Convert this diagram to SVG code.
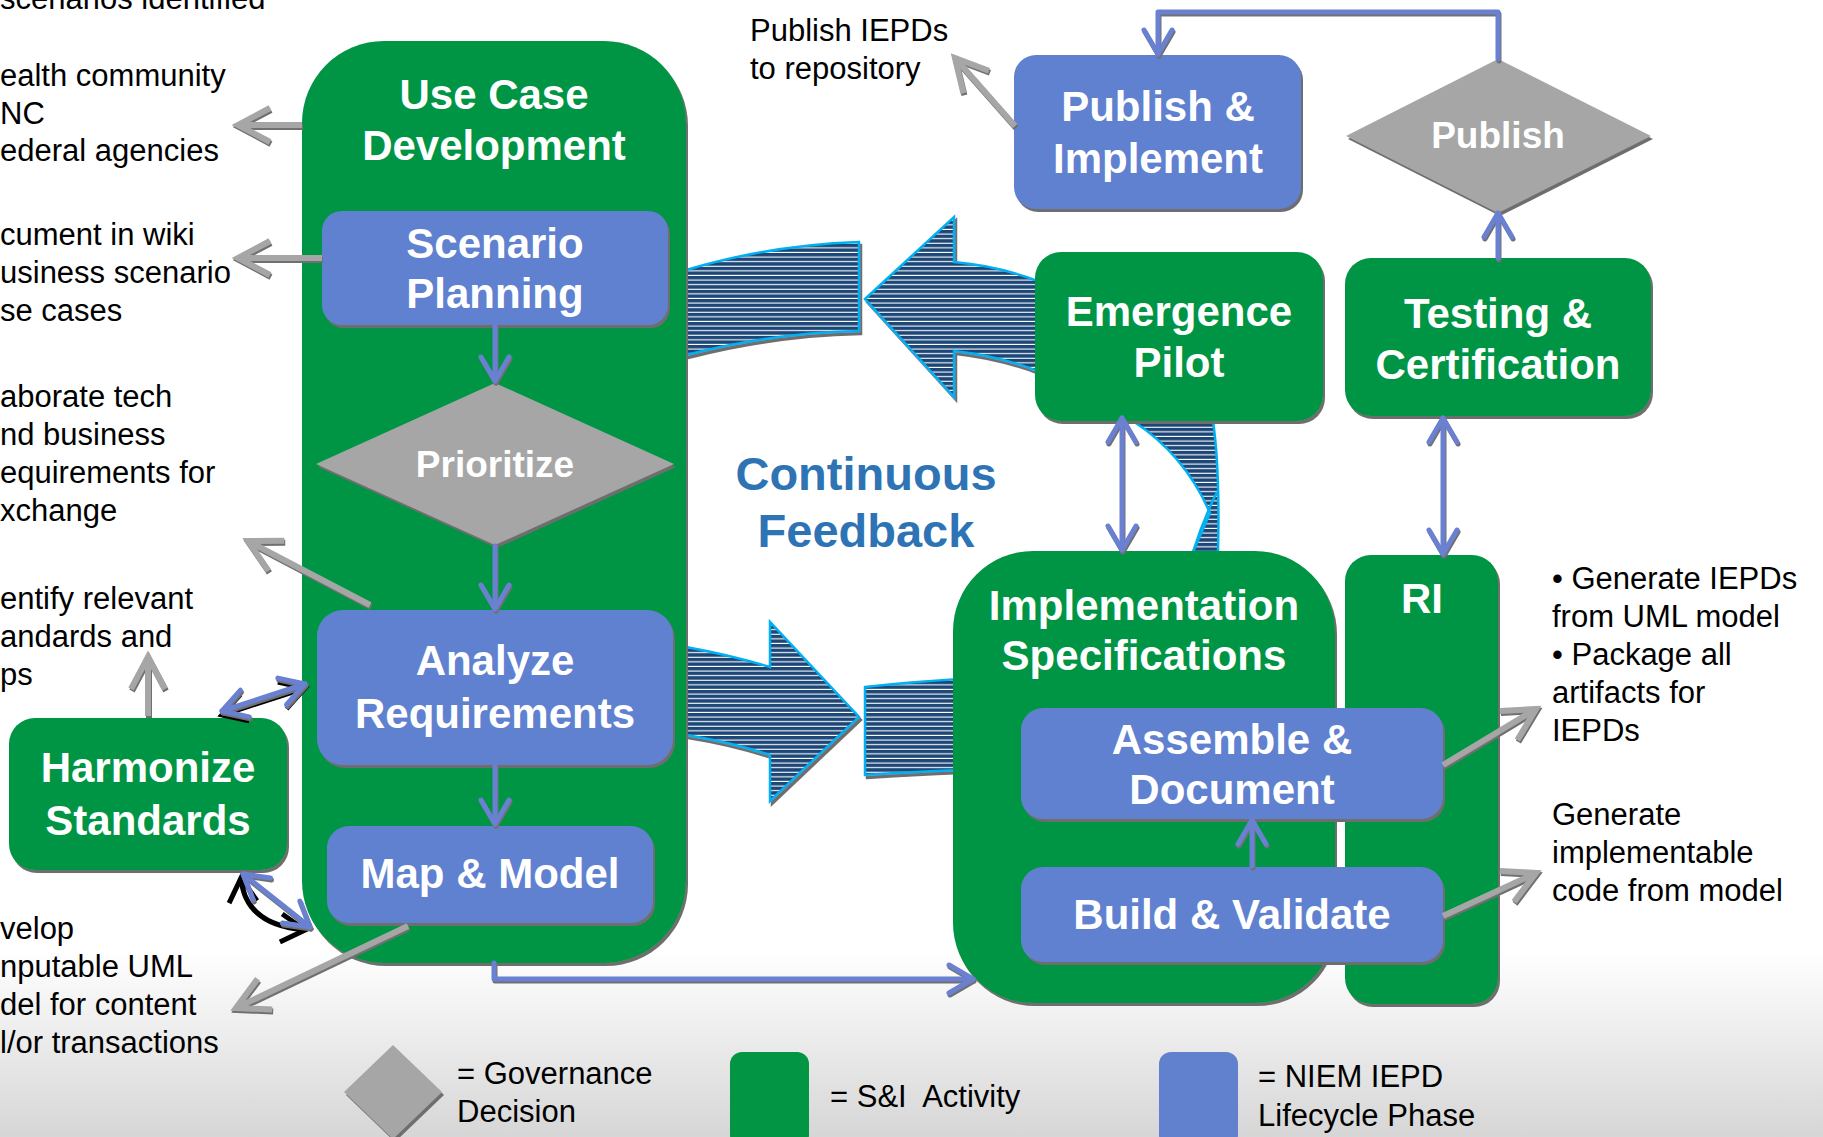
<svg xmlns="http://www.w3.org/2000/svg" width="1823" height="1137" viewBox="0 0 1823 1137">
<defs>
<style>
.nt{font-family:"Liberation Sans",Arial,sans-serif;font-weight:bold;font-size:42px;fill:#fff;text-anchor:middle}
.dt{font-family:"Liberation Sans",Arial,sans-serif;font-weight:bold;font-size:37px;fill:#fff;text-anchor:middle}
.lt{font-family:"Liberation Sans",Arial,sans-serif;font-size:31px;fill:#000;white-space:pre}
.cf{font-family:"Liberation Sans",Arial,sans-serif;font-weight:bold;font-size:47px;fill:#2E74B5;text-anchor:middle}
.green{fill:#019544}
.blue{fill:#6181CF}
.gray{fill:#A6A6A6}
.bl{fill:none;stroke:#6A80D0;stroke-width:5;stroke-linecap:round;stroke-linejoin:round}
.gr{fill:none;stroke:#A6A6A6;stroke-width:6}
.bk{fill:none;stroke:#000;stroke-width:5}
.fb{fill:url(#stripes);stroke:#00B0F0;stroke-width:2.5}
</style>
<pattern id="stripes" patternUnits="userSpaceOnUse" width="10" height="4.6">
<rect width="10" height="4.6" fill="#1B4677"/>
<rect y="3.5" width="10" height="1.1" fill="#fff"/>
</pattern>
<linearGradient id="bg" x1="0" y1="0" x2="0" y2="1">
<stop offset="0" stop-color="#fff"/>
<stop offset="1" stop-color="#D6D6D6"/>
</linearGradient>
<filter id="sh" x="-5%" y="-5%" width="115%" height="120%">
<feDropShadow dx="2" dy="3" stdDeviation="0.5" flood-color="#6E6E6E" flood-opacity="1"/>
</filter>
<filter id="sh2" x="-20%" y="-20%" width="140%" height="140%">
<feDropShadow dx="1" dy="2" stdDeviation="0.4" flood-color="#707070" flood-opacity="1"/>
</filter>
<marker id="ab" markerUnits="userSpaceOnUse" markerWidth="40" markerHeight="40" viewBox="-30 -20 40 40" refX="0" refY="0" orient="auto-start-reverse" overflow="visible">
<path d="M-24,-14 L0,0 L-24,14" fill="none" stroke="#6A80D0" stroke-width="5" stroke-linecap="round" stroke-linejoin="round"/>
</marker>
<marker id="abk" markerUnits="userSpaceOnUse" markerWidth="40" markerHeight="40" viewBox="-30 -20 40 40" refX="0" refY="0" orient="auto-start-reverse" overflow="visible">
<path d="M-24,-14 L0,0 L-24,14" fill="none" stroke="#000" stroke-width="5"/>
</marker>
<marker id="ag" markerUnits="userSpaceOnUse" markerWidth="50" markerHeight="50" viewBox="-40 -25 50 50" refX="0" refY="0" orient="auto" overflow="visible">
<path d="M-32,-17 L0,0 L-32,17" fill="none" stroke="#A6A6A6" stroke-width="6"/>
</marker>
</defs>

<rect width="1823" height="1137" fill="#fff"/>
<rect y="950" width="1823" height="187" fill="url(#bg)"/>

<g id="feedback">
<path class="fb" d="M686,270 Q770,245 859,242 L859,331 Q770,333 686,355 Z" filter="url(#sh)"/>
<path class="fb" d="M865,299 L954,217 L954,262 Q1000,266 1040,282 L1040,372 Q1000,356 954,351 L954,397 Z" filter="url(#sh)"/>
<path class="fb" d="M686,647 Q730,655 770,667 L770,622 L859,717 L770,801 L770,755 Q730,742 686,735 Z" filter="url(#sh)"/>
<path class="fb" d="M865,687 Q910,682 960,679 L960,770 Q910,772 865,775 Z" filter="url(#sh)"/>
<path class="fb" d="M1133,421 Q1185,455 1210,513 L1193,552 L1218,552 Q1220,470 1213,421 Z"/>
<path d="M1217,492 Q1203,520 1193,552" fill="none" stroke="#00B0F0" stroke-width="2.5"/>
</g>

<g id="continuous-feedback">
<text class="cf" x="866" y="490">Continuous</text>
<text class="cf" x="866" y="547">Feedback</text>
</g>

<g id="use-case-development">
<rect class="green" x="302" y="41" width="384" height="922" rx="82" ry="82" filter="url(#sh)"/>
<text class="nt" x="494" y="109">Use Case</text>
<text class="nt" x="494" y="160">Development</text>
</g>

<g id="scenario-planning">
<rect class="blue" x="322" y="211" width="346" height="114" rx="20" filter="url(#sh)"/>
<text class="nt" x="495" y="258">Scenario</text>
<text class="nt" x="495" y="308">Planning</text>
</g>

<g id="prioritize">
<polygon class="gray" points="495,383 674,464 495,545 316,464" filter="url(#sh)"/>
<text class="dt" x="495" y="477">Prioritize</text>
</g>

<g id="analyze-requirements">
<rect class="blue" x="317" y="610" width="356" height="155" rx="26" filter="url(#sh)"/>
<text class="nt" x="495" y="675">Analyze</text>
<text class="nt" x="495" y="728">Requirements</text>
</g>

<g id="map-model">
<rect class="blue" x="327" y="826" width="326" height="97" rx="22" filter="url(#sh)"/>
<text class="nt" x="490" y="888">Map &amp; Model</text>
</g>

<g id="harmonize-standards">
<rect class="green" x="9" y="718" width="278" height="152" rx="26" filter="url(#sh)"/>
<text class="nt" x="148" y="782">Harmonize</text>
<text class="nt" x="148" y="835">Standards</text>
</g>

<g id="publish-implement">
<rect class="blue" x="1014" y="55" width="287" height="154" rx="22" filter="url(#sh)"/>
<text class="nt" x="1158" y="121">Publish &amp;</text>
<text class="nt" x="1158" y="173">Implement</text>
</g>

<g id="publish">
<polygon class="gray" points="1498,59 1651,136 1498,213 1346,136" filter="url(#sh)"/>
<text class="dt" x="1498" y="148">Publish</text>
</g>

<g id="emergence-pilot">
<rect class="green" x="1035" y="252" width="288" height="169" rx="26" filter="url(#sh)"/>
<text class="nt" x="1179" y="326">Emergence</text>
<text class="nt" x="1179" y="377">Pilot</text>
</g>

<g id="testing-certification">
<rect class="green" x="1345" y="258" width="306" height="158" rx="26" filter="url(#sh)"/>
<text class="nt" x="1498" y="328">Testing &amp;</text>
<text class="nt" x="1498" y="379">Certification</text>
</g>

<g id="implementation-specifications">
<rect class="green" x="953" y="551" width="382" height="452" rx="80" ry="80" filter="url(#sh)"/>
<text class="nt" x="1144" y="620">Implementation</text>
<text class="nt" x="1144" y="670">Specifications</text>
</g>

<g id="ri">
<rect class="green" x="1345" y="555" width="153" height="449" rx="26" filter="url(#sh)"/>
<text class="nt" x="1422" y="613">RI</text>
</g>

<g id="assemble-document">
<rect class="blue" x="1021" y="708" width="422" height="111" rx="22" filter="url(#sh)"/>
<text class="nt" x="1232" y="754">Assemble &amp;</text>
<text class="nt" x="1232" y="804">Document</text>
</g>

<g id="build-validate">
<rect class="blue" x="1021" y="867" width="422" height="95" rx="22" filter="url(#sh)"/>
<text class="nt" x="1232" y="929">Build &amp; Validate</text>
</g>

<g id="connectors">
<path class="bk" d="M222,715 L305,688" marker-start="url(#abk)" marker-end="url(#abk)"/>
<path class="bk" d="M241,878 Q245,925 305,930" marker-start="url(#abk)" marker-end="url(#abk)"/>
<g filter="url(#sh2)">
<path class="bl" d="M495,326 V381" marker-end="url(#ab)"/>
<path class="bl" d="M495,546 V609" marker-end="url(#ab)"/>
<path class="bl" d="M495,766 V824" marker-end="url(#ab)"/>
<path class="bl" d="M222,711 L305,684" marker-start="url(#ab)" marker-end="url(#ab)"/>
<path class="bl" d="M243,874 L310,927" marker-start="url(#ab)" marker-end="url(#ab)"/>
<path class="bl" d="M494,963 V979 H973" marker-end="url(#ab)"/>
<path class="bl" d="M1122,418 V550" marker-start="url(#ab)" marker-end="url(#ab)"/>
<path class="bl" d="M1443,418 V554" marker-start="url(#ab)" marker-end="url(#ab)"/>
<path class="bl" d="M1252,866 V820" marker-end="url(#ab)"/>
<path class="bl" d="M1498,258 V213" marker-end="url(#ab)"/>
<path class="bl" d="M1498,59 V12 H1158 V54" marker-end="url(#ab)"/>
</g>
<g filter="url(#sh2)">
<path class="gr" d="M302,125 H238" marker-end="url(#ag)"/>
<path class="gr" d="M322,258 H238" marker-end="url(#ag)"/>
<path class="gr" d="M370,605 L248,541" marker-end="url(#ag)"/>
<path class="gr" d="M148,716 V657" marker-end="url(#ag)"/>
<path class="gr" d="M408,926 L236,1008" marker-end="url(#ag)"/>
<path class="gr" d="M1015,126 L955,58" marker-end="url(#ag)"/>
<path class="gr" d="M1443,765 L1536,709" marker-end="url(#ag)"/>
<path class="gr" d="M1443,916 L1536,873" marker-end="url(#ag)"/>
</g>
</g>

<g id="annotations">
<text class="lt" x="0" y="9">scenarios identified</text>
<text class="lt" x="0" y="86">ealth community</text>
<text class="lt" x="0" y="124">NC</text>
<text class="lt" x="0" y="161">ederal agencies</text>
<text class="lt" x="0" y="245">cument in wiki</text>
<text class="lt" x="0" y="283">usiness scenario</text>
<text class="lt" x="0" y="321">se cases</text>
<text class="lt" x="0" y="407">aborate tech</text>
<text class="lt" x="0" y="445">nd business</text>
<text class="lt" x="0" y="483">equirements for</text>
<text class="lt" x="0" y="521">xchange</text>
<text class="lt" x="0" y="609">entify relevant</text>
<text class="lt" x="0" y="647">andards and</text>
<text class="lt" x="0" y="685">ps</text>
<text class="lt" x="0" y="939">velop</text>
<text class="lt" x="0" y="977">nputable UML</text>
<text class="lt" x="0" y="1015">del for content</text>
<text class="lt" x="0" y="1053">l/or transactions</text>
<text class="lt" x="750" y="41">Publish IEPDs</text>
<text class="lt" x="750" y="79">to repository</text>
<text class="lt" x="1552" y="589">• Generate IEPDs</text>
<text class="lt" x="1552" y="627">from UML model</text>
<text class="lt" x="1552" y="665">• Package all</text>
<text class="lt" x="1552" y="703">artifacts for</text>
<text class="lt" x="1552" y="741">IEPDs</text>
<text class="lt" x="1552" y="825">Generate</text>
<text class="lt" x="1552" y="863">implementable</text>
<text class="lt" x="1552" y="901">code from model</text>
</g>

<g id="legend">
<polygon class="gray" points="393,1045 442,1092 393,1139 344,1092" filter="url(#sh)"/>
<text class="lt" x="457" y="1084">= Governance</text>
<text class="lt" x="457" y="1122">Decision</text>
<rect class="green" x="730" y="1052" width="79" height="95" rx="12"/>
<text class="lt" x="830" y="1107">= S&amp;I  Activity</text>
<rect class="blue" x="1159" y="1052" width="79" height="95" rx="12"/>
<text class="lt" x="1258" y="1087">= NIEM IEPD</text>
<text class="lt" x="1258" y="1126">Lifecycle Phase</text>
</g>
</svg>
